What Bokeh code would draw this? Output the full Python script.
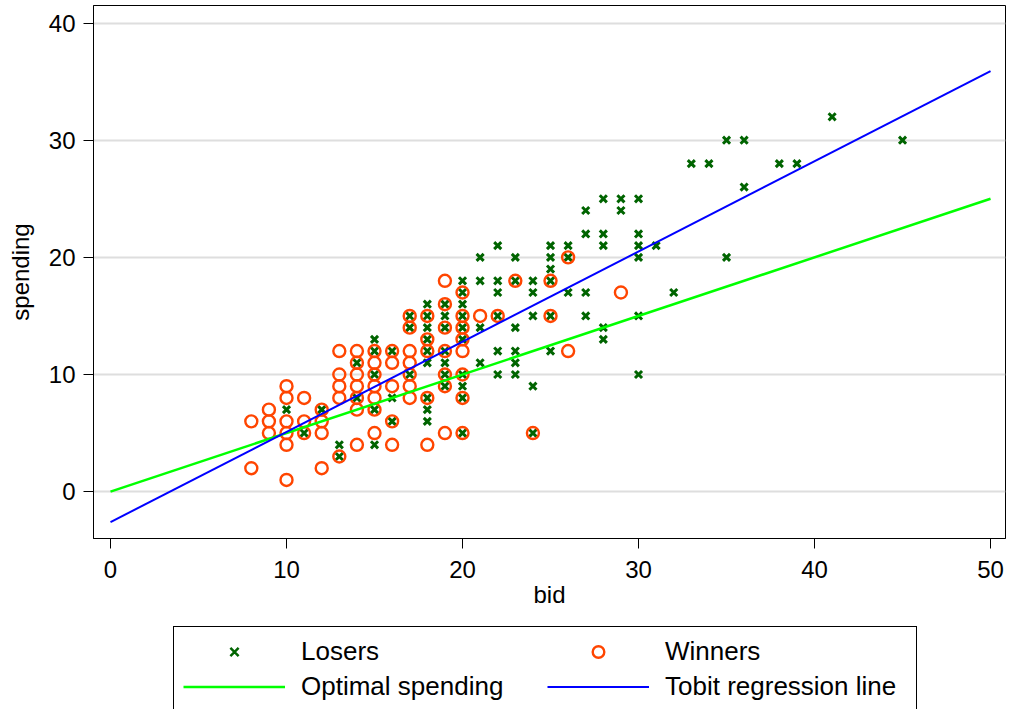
from bokeh.plotting import figure
from bokeh.layouts import column
from bokeh.models import Legend, LegendItem, FixedTicker, Range1d
from bokeh.embed import file_html
from bokeh.resources import INLINE

# ---- data ----
winners_bid = [8, 8, 9, 9, 9, 10, 10, 10, 10, 10, 10, 11, 11, 11, 12, 12, 12, 12,
               13, 13, 13, 13, 13, 14, 14, 14, 14, 14, 14, 14,
               15, 15, 15, 15, 15, 15, 15, 16, 16, 16, 16, 16,
               17, 17, 17, 17, 17, 17, 17, 18, 18, 18, 18, 18,
               19, 19, 19, 19, 19, 19, 19, 20, 20, 20, 20, 20, 20, 20, 20,
               21, 22, 23, 24, 25, 25, 26, 26, 29]
winners_spend = [6, 2, 7, 6, 5, 9, 8, 6, 5, 4, 1, 8, 6, 5, 7, 6, 5, 2,
                 12, 10, 9, 8, 3, 12, 11, 10, 9, 8, 7, 4,
                 12, 11, 10, 9, 8, 7, 5, 12, 11, 9, 6, 4,
                 15, 14, 12, 11, 10, 9, 8, 15, 13, 12, 8, 4,
                 18, 16, 14, 12, 10, 9, 5, 17, 15, 14, 13, 12, 10, 8, 5,
                 15, 15, 18, 5, 18, 15, 20, 12, 17]

losers_bid = [10, 11, 12, 13, 13, 14, 14,
              15, 15, 15, 15, 15, 16, 16, 16, 17, 17, 17,
              18, 18, 18, 18, 18, 18, 18, 18, 18,
              19, 19, 19, 19, 19, 19, 19,
              20, 20, 20, 20, 20, 20, 20, 20, 20, 20,
              21, 21, 21, 21, 22, 22, 22, 22, 22, 22,
              23, 23, 23, 23, 23, 23, 24, 24, 24, 24, 24,
              25, 25, 25, 25, 25, 25, 26, 26, 26,
              27, 27, 27, 27, 28, 28, 28, 28, 28, 29, 29,
              30, 30, 30, 30, 30, 30,
              31, 32, 33, 34, 35, 35, 36, 36, 38, 39, 41, 45]
losers_spend = [7, 5, 7, 4, 3, 11, 8,
                13, 12, 10, 7, 4, 12, 8, 6, 15, 14, 10,
                16, 15, 14, 13, 12, 11, 8, 7, 6,
                16, 15, 14, 12, 11, 10, 9,
                18, 17, 16, 15, 14, 13, 10, 9, 8, 5,
                20, 18, 14, 11, 21, 18, 17, 15, 12, 10,
                20, 18, 14, 12, 11, 10, 18, 17, 15, 9, 5,
                21, 20, 19, 18, 15, 12, 21, 20, 17,
                24, 22, 17, 15, 25, 22, 21, 14, 13, 25, 24,
                25, 22, 21, 20, 15, 10,
                21, 17, 28, 28, 30, 20, 30, 26, 28, 28, 32, 30]

line_bid = [0, 50]
optimal_spend = [0, 25]
tobit_spend = [-2.6, 35.9]

x_ticks = [0, 10, 20, 30, 40, 50]
y_ticks = [0, 10, 20, 30, 40]

FONT = "Liberation Sans"
LOSER_COLOR = "#006400"
WINNER_COLOR = "#ff4500"
OPT_COLOR = "#00ff00"
TOBIT_COLOR = "#0000ff"

p = figure(width=1010, height=624, output_backend="svg", toolbar_location=None,
           x_range=Range1d(-0.966, 50.85), y_range=Range1d(-4.0, 41.5),
           min_border_left=93, min_border_right=5, min_border_top=5,
           min_border_bottom=86, background_fill_color="white",
           border_fill_color="white")

p.outline_line_color = "black"
p.outline_line_width = 1
p.outline_line_alpha = 1

# grid
p.xgrid.visible = False
p.ygrid.ticker = FixedTicker(ticks=y_ticks)
p.ygrid.grid_line_color = "#dedede"
p.ygrid.grid_line_width = 2

for ax in (p.xaxis[0], p.yaxis[0]):
    ax.axis_line_color = "black"
    ax.major_tick_line_color = "black"
    ax.major_tick_out = 10
    ax.major_tick_in = 0
    ax.minor_tick_out = 0
    ax.minor_tick_in = 0
    ax.major_label_text_font = FONT
    ax.major_label_text_font_size = "24px"
    ax.major_label_text_color = "black"
    ax.axis_label_text_font = FONT
    ax.axis_label_text_font_size = "24px"
    ax.axis_label_text_font_style = "normal"
    ax.axis_label_text_color = "black"

p.xaxis[0].ticker = FixedTicker(ticks=x_ticks)
p.yaxis[0].ticker = FixedTicker(ticks=y_ticks)
p.xaxis[0].axis_label = "bid"
p.yaxis[0].axis_label = "spending"
p.xaxis[0].major_label_standoff = 12
p.xaxis[0].axis_label_standoff = 0
p.yaxis[0].major_label_standoff = 8
p.yaxis[0].axis_label_standoff = 12
p.yaxis[0].major_label_orientation = "horizontal"

p.scatter(losers_bid, losers_spend, marker="x", size=10,
          line_color=LOSER_COLOR, line_width=3)
p.scatter(winners_bid, winners_spend, marker="circle", size=12,
          line_color=WINNER_COLOR, line_width=2.4, fill_color=None)
p.line(line_bid, optimal_spend, line_color=OPT_COLOR, line_width=2.5)
p.line(line_bid, tobit_spend, line_color=TOBIT_COLOR, line_width=2)

# ---- legend strip below the plot (key glyphs hold no visible data) ----
nan = float("nan")
leg = figure(width=1010, height=85, output_backend="svg", toolbar_location=None,
             min_border=0, min_border_left=0, min_border_right=0,
             min_border_top=0, min_border_bottom=0,
             x_range=Range1d(0, 1), y_range=Range1d(0, 1),
             background_fill_color="white", border_fill_color="white")
leg.outline_line_color = None
leg.axis.visible = False
leg.grid.visible = False

k_los = leg.scatter([nan], [nan], marker="x", size=10, line_color=LOSER_COLOR, line_width=2.5)
k_win = leg.scatter([nan], [nan], marker="circle", size=12, line_color=WINNER_COLOR,
                    line_width=2.4, fill_color=None)
k_opt = leg.line([nan, nan], [nan, nan], line_color=OPT_COLOR, line_width=2.5)
k_tob = leg.line([nan, nan], [nan, nan], line_color=TOBIT_COLOR, line_width=2)

legend = Legend(items=[
    LegendItem(label="Losers", renderers=[k_los]),
    LegendItem(label="Winners", renderers=[k_win]),
    LegendItem(label="Optimal spending", renderers=[k_opt]),
    LegendItem(label="Tobit regression line", renderers=[k_tob]),
], orientation="horizontal", ncols=2, location=(80, -3))
legend.label_text_font = FONT
legend.label_text_font_size = "26px"
legend.label_text_color = "black"
legend.glyph_width = 102
legend.glyph_height = 29
legend.label_standoff = 16
legend.label_width = 242
legend.label_height = 29
legend.spacing = 4
legend.padding = 9
legend.margin = 0
legend.border_line_color = "black"
legend.border_line_width = 1
legend.border_line_alpha = 1
legend.background_fill_color = "white"
legend.background_fill_alpha = 1
leg.add_layout(legend, "center")

layout = column(p, leg, spacing=0)
open("out.html", "w").write(file_html(layout, INLINE))
